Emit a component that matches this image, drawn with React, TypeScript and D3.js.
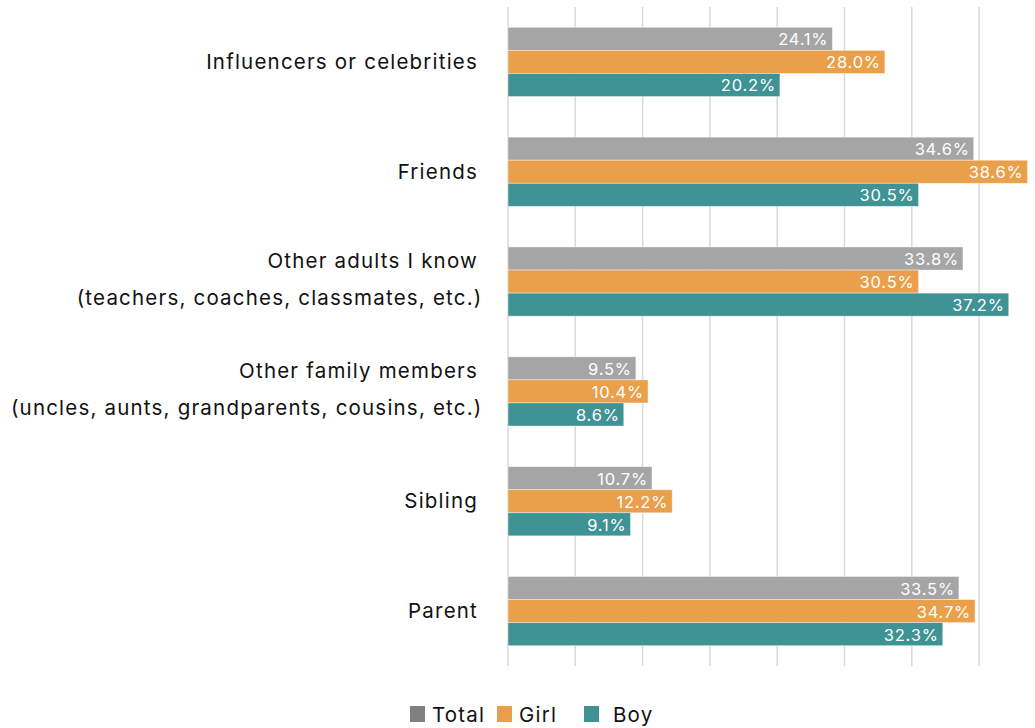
import React from "react";
import * as d3 from "d3";

const categories = [
  ["Influencers or celebrities"],
  ["Friends"],
  ["Other adults I know", "(teachers, coaches, classmates, etc.)"],
  ["Other family members", "(uncles, aunts, grandparents, cousins, etc.)"],
  ["Sibling"],
  ["Parent"],
];
const seriesNames = ["Total", "Girl", "Boy"];
const seriesColors = ["#A5A5A5", "#EA9F4B", "#409394"];
const totalValues = [24.1, 34.6, 33.8, 9.5, 10.7, 33.5];
const girlValues = [28.0, 38.6, 30.5, 10.4, 12.2, 34.7];
const boyValues = [20.2, 30.5, 37.2, 8.6, 9.1, 32.3];
const xTicks = [0, 5, 10, 15, 20, 25, 30, 35];

const W = 1035;
const H = 728;
const FONT = "Inter, 'Noto Sans', sans-serif";

export default function App() {
  const values = [totalValues, girlValues, boyValues];
  const x = d3.scaleLinear().domain([0, 5]).range([508, 575.3]);
  const y = d3
    .scaleBand<number>()
    .domain(d3.range(categories.length))
    .range([7, 666])
    .paddingInner(0.37)
    .paddingOuter(0.185);
  const sub = d3
    .scaleBand<number>()
    .domain(d3.range(3))
    .range([0, y.bandwidth()]);
  const gridTop = 7;
  const gridBottom = 666;

  const legendItems = [
    { name: "Total", sx: 410, tx: 432 },
    { name: "Girl", sx: 497, tx: 519 },
    { name: "Boy", sx: 584, tx: 613 },
  ];

  return (
    <svg
      width={W}
      height={H}
      style={{ position: "absolute", left: 0, top: 0, background: "#fff" }}
      fontFamily={FONT}
    >
      {xTicks.map((t) => (
        <line
          key={t}
          x1={x(t)}
          x2={x(t)}
          y1={gridTop}
          y2={gridBottom}
          stroke="#D9D9D9"
          strokeWidth={1.5}
        />
      ))}
      {categories.map((lines, i) => {
        const cy = (y(i) as number) + y.bandwidth() / 2;
        const lh = 37.5;
        const start =
          lines.length > 1 ? cy - 3 - ((lines.length - 1) * lh) / 2 : cy - 1;
        return (
          <text
            key={i}
            textAnchor="end"
            fontSize={20.5}
            letterSpacing={1.2}
            fill="#111"
            dominantBaseline="central"
          >
            {lines.map((l, j) => (
              <tspan key={j} x={j === 0 ? 478 : 482.5} y={start + j * lh}>
                {l}
              </tspan>
            ))}
          </text>
        );
      })}
      {values.map((vals, s) =>
        vals.map((v, i) => {
          const by = (y(i) as number) + (sub(s) as number);
          const bh = sub.bandwidth();
          return (
            <g key={`${s}-${i}`}>
              <rect
                x={x(0)}
                y={by}
                width={x(v) - x(0)}
                height={bh}
                fill={seriesColors[s]}
                stroke="rgba(255,255,255,0.5)"
                strokeWidth={0.8}
              />
              <text
                x={x(v) - 4}
                y={by + bh / 2 + 0.5}
                textAnchor="end"
                dominantBaseline="central"
                fontSize={16.5}
                letterSpacing={0.8}
                fill="#fff"
              >
                {v.toFixed(1)}%
              </text>
            </g>
          );
        })
      )}
      {legendItems.map((it, k) => (
        <g key={it.name}>
          <rect
            x={it.sx}
            y={706}
            width={15}
            height={16}
            fill={k === 0 ? "#808080" : seriesColors[k]}
          />
          <text
            x={it.tx}
            y={714}
            dominantBaseline="central"
            fontSize={20.5}
            letterSpacing={1.2}
            fill="#111"
          >
            {seriesNames[k]}
          </text>
        </g>
      ))}
    </svg>
  );
}
